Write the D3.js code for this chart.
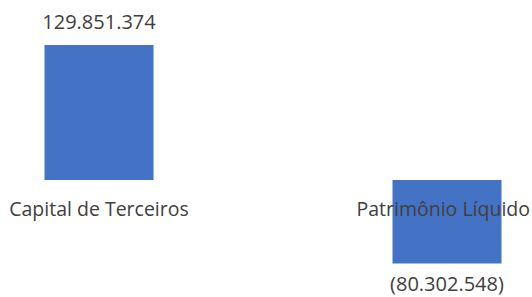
<!DOCTYPE html>
<html lang="pt">
<head>
    <meta charset="utf-8">
    <title>Capital de Terceiros x Patrimônio Líquido</title>
    <style>
        body { margin: 0; background: #fff; }
        text { font-family: "Open Sans", "Noto Sans", sans-serif; fill: #404040; }
        .bar { fill: #4472C4; }
    </style>
</head>
<body>

<script src="https://d3js.org/d3.v7.min.js"></script>

<script>
  const categories = ["Capital de Terceiros", "Patrimônio Líquido"];
  const values = [129851374, -80302548];

  const width = 532,
    height = 297,
    barWidth = 109,
    catFontSize = 19.5,
    valFontSize = 20;

  const svg = d3.select("body").append("svg")
    .attr("width", width)
    .attr("height", height);

  // category centres
  const x = d3.scalePoint()
    .domain(categories)
    .range([99, 447]);

  const y = d3.scaleLinear()
    .domain([d3.min(values), d3.max(values)])
    .range([263.5, 45]);

  // pt-BR style numbers, negatives in parentheses
  const fmt = d3.formatLocale({decimal: ",", thousands: ".", grouping: [3], currency: ["R$", ""]})
    .format(",.0f");
  function label(v) {
    return v < 0 ? "(" + fmt(-v) + ")" : fmt(v);
  }

  const data = categories.map(function(c, i) { return {cat: c, value: values[i]}; });

  // bars
  svg.selectAll("rect.bar")
    .data(data)
    .enter().append("rect")
    .attr("class", "bar")
    .attr("x", function(d) { return x(d.cat) - barWidth / 2; })
    .attr("width", barWidth)
    .attr("y", function(d) { return y(Math.max(0, d.value)); })
    .attr("height", function(d) { return Math.abs(y(d.value) - y(0)); });

  // category labels, below the zero line, kept inside the chart
  svg.selectAll("text.cat")
    .data(data)
    .enter().append("text")
    .attr("class", "cat")
    .attr("y", y(0) + 36)
    .attr("text-anchor", "middle")
    .style("font-size", catFontSize + "px")
    .text(function(d) { return d.cat; })
    .attr("x", function(d) {
      const w = this.getComputedTextLength();
      let cx = x(d.cat);
      if (cx + w / 2 > width - 2) cx = width - 2 - w / 2;
      if (cx - w / 2 < 2) cx = 2 + w / 2;
      return cx;
    });

  // value labels, outside end
  svg.selectAll("text.val")
    .data(data)
    .enter().append("text")
    .attr("class", "val")
    .attr("x", function(d) { return x(d.cat); })
    .attr("y", function(d) { return d.value >= 0 ? y(d.value) - 16.5 : y(d.value) + 27.5; })
    .attr("text-anchor", "middle")
    .style("font-size", valFontSize + "px")
    .text(function(d) { return label(d.value); });
</script>

</body>
</html>
